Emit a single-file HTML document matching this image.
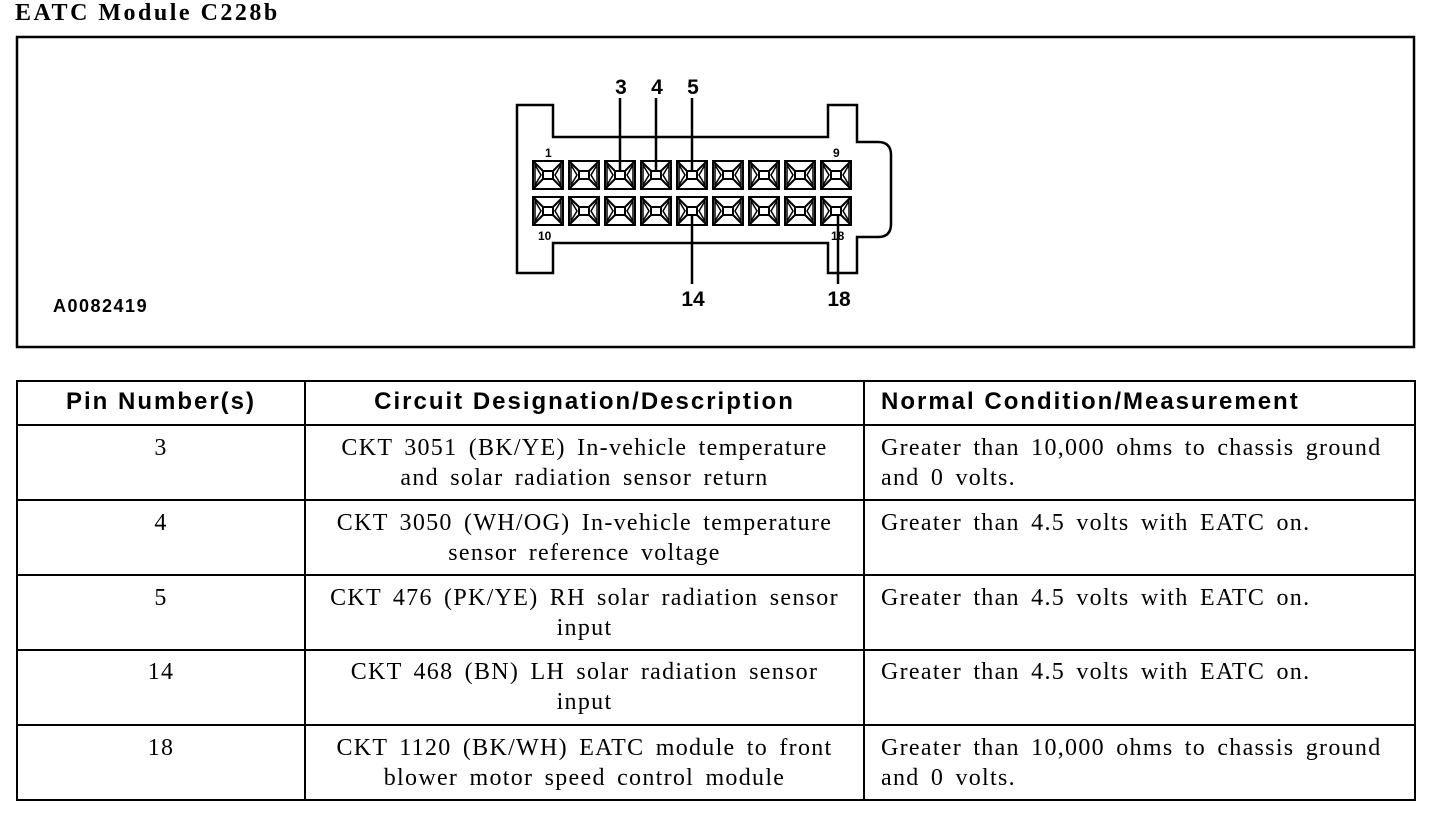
<!DOCTYPE html>
<html><head><meta charset="utf-8"><style>
body{margin:0;width:1456px;height:832px;background:#fff;position:relative;overflow:hidden}
.t{position:absolute;font-family:"Liberation Serif",serif;font-size:24px;letter-spacing:1.3px;word-spacing:4px;line-height:30px;color:#000;text-align:center;white-space:nowrap}
.h{position:absolute;font-family:"Liberation Sans",sans-serif;font-weight:bold;font-size:24px;letter-spacing:2px;color:#000;white-space:nowrap}
.l{text-align:left}
</style></head><body>
<div style="position:absolute;left:15px;top:0px;font-family:'Liberation Serif',serif;font-weight:bold;font-size:24px;letter-spacing:2.5px">EATC Module C228b</div>
<svg width="1456" height="832" style="position:absolute;left:0;top:0">
<defs><g id="p" fill="none" stroke="#000" stroke-width="2">
<rect x="0" y="0" width="30" height="28"/><rect x="10" y="10" width="10" height="8"/>
<path d="M0 0L10 10M30 0L20 10M0 28L10 18M30 28L20 18"/>
<path d="M2 4L8 14L2 24Z M28 4L22 14L28 24Z" stroke-width="1.5"/>
</g></defs>
<rect x="17" y="37" width="1397" height="310" fill="none" stroke="#000" stroke-width="2.5"/>
<path d="M553 137V105H517V273H553V243H828V273H857V237H878Q891 237 891 224V155Q891 142 878 142H857V105H828V137Z" fill="none" stroke="#000" stroke-width="2.5"/>
<g>
<use href="#p" x="533" y="161"/><use href="#p" x="569" y="161"/><use href="#p" x="605" y="161"/><use href="#p" x="641" y="161"/><use href="#p" x="677" y="161"/><use href="#p" x="713" y="161"/><use href="#p" x="749" y="161"/><use href="#p" x="785" y="161"/><use href="#p" x="821" y="161"/>
<use href="#p" x="533" y="197"/><use href="#p" x="569" y="197"/><use href="#p" x="605" y="197"/><use href="#p" x="641" y="197"/><use href="#p" x="677" y="197"/><use href="#p" x="713" y="197"/><use href="#p" x="749" y="197"/><use href="#p" x="785" y="197"/><use href="#p" x="821" y="197"/>
</g>
<g stroke="#000" stroke-width="2.5">
<line x1="620" y1="98" x2="620" y2="171"/><line x1="656" y1="98" x2="656" y2="171"/><line x1="692" y1="98" x2="692" y2="171"/>
<line x1="692" y1="215" x2="692" y2="284"/><line x1="838" y1="215" x2="838" y2="284"/>
</g>
<g font-family="Liberation Sans,sans-serif" font-weight="bold" font-size="21" text-anchor="middle">
<text x="621" y="94">3</text><text x="657" y="94">4</text><text x="693" y="94">5</text>
<text x="693" y="306">14</text><text x="839" y="306">18</text>
</g>
<g font-family="Liberation Sans,sans-serif" font-weight="bold" font-size="12">
<text x="545" y="157">1</text><text x="833" y="157">9</text><text x="538" y="240">10</text><text x="831" y="240">18</text>
<text x="53" y="312" font-size="18" letter-spacing="1.5">A0082419</text>
</g>
<g stroke="#000" stroke-width="2" fill="none">
<rect x="17" y="381" width="1398" height="419"/>
<line x1="17" y1="425" x2="1415" y2="425"/><line x1="17" y1="500" x2="1415" y2="500"/><line x1="17" y1="575" x2="1415" y2="575"/><line x1="17" y1="650" x2="1415" y2="650"/><line x1="17" y1="725" x2="1415" y2="725"/>
<line x1="305" y1="381" x2="305" y2="800"/><line x1="864" y1="381" x2="864" y2="800"/>
</g>
</svg>
<div class="h" style="left:17px;width:288px;top:388px;text-align:center">Pin Number(s)</div>
<div class="h" style="left:305px;width:559px;top:388px;text-align:center">Circuit Designation/Description</div>
<div class="h" style="left:881px;top:388px">Normal Condition/Measurement</div>

<div class="t" style="left:17px;width:288px;top:433px">3</div>
<div class="t" style="left:305px;width:559px;top:433px">CKT 3051 (BK/YE) In-vehicle temperature<br>and solar radiation sensor return</div>
<div class="t l" style="left:881px;top:433px">Greater than 10,000 ohms to chassis ground<br>and 0 volts.</div>

<div class="t" style="left:17px;width:288px;top:508px">4</div>
<div class="t" style="left:305px;width:559px;top:508px">CKT 3050 (WH/OG) In-vehicle temperature<br>sensor reference voltage</div>
<div class="t l" style="left:881px;top:508px">Greater than 4.5 volts with EATC on.</div>

<div class="t" style="left:17px;width:288px;top:583px">5</div>
<div class="t" style="left:305px;width:559px;top:583px">CKT 476 (PK/YE) RH solar radiation sensor<br>input</div>
<div class="t l" style="left:881px;top:583px">Greater than 4.5 volts with EATC on.</div>

<div class="t" style="left:17px;width:288px;top:657px">14</div>
<div class="t" style="left:305px;width:559px;top:657px">CKT 468 (BN) LH solar radiation sensor<br>input</div>
<div class="t l" style="left:881px;top:657px">Greater than 4.5 volts with EATC on.</div>

<div class="t" style="left:17px;width:288px;top:733px">18</div>
<div class="t" style="left:305px;width:559px;top:733px">CKT 1120 (BK/WH) EATC module to front<br>blower motor speed control module</div>
<div class="t l" style="left:881px;top:733px">Greater than 10,000 ohms to chassis ground<br>and 0 volts.</div>
</body></html>
